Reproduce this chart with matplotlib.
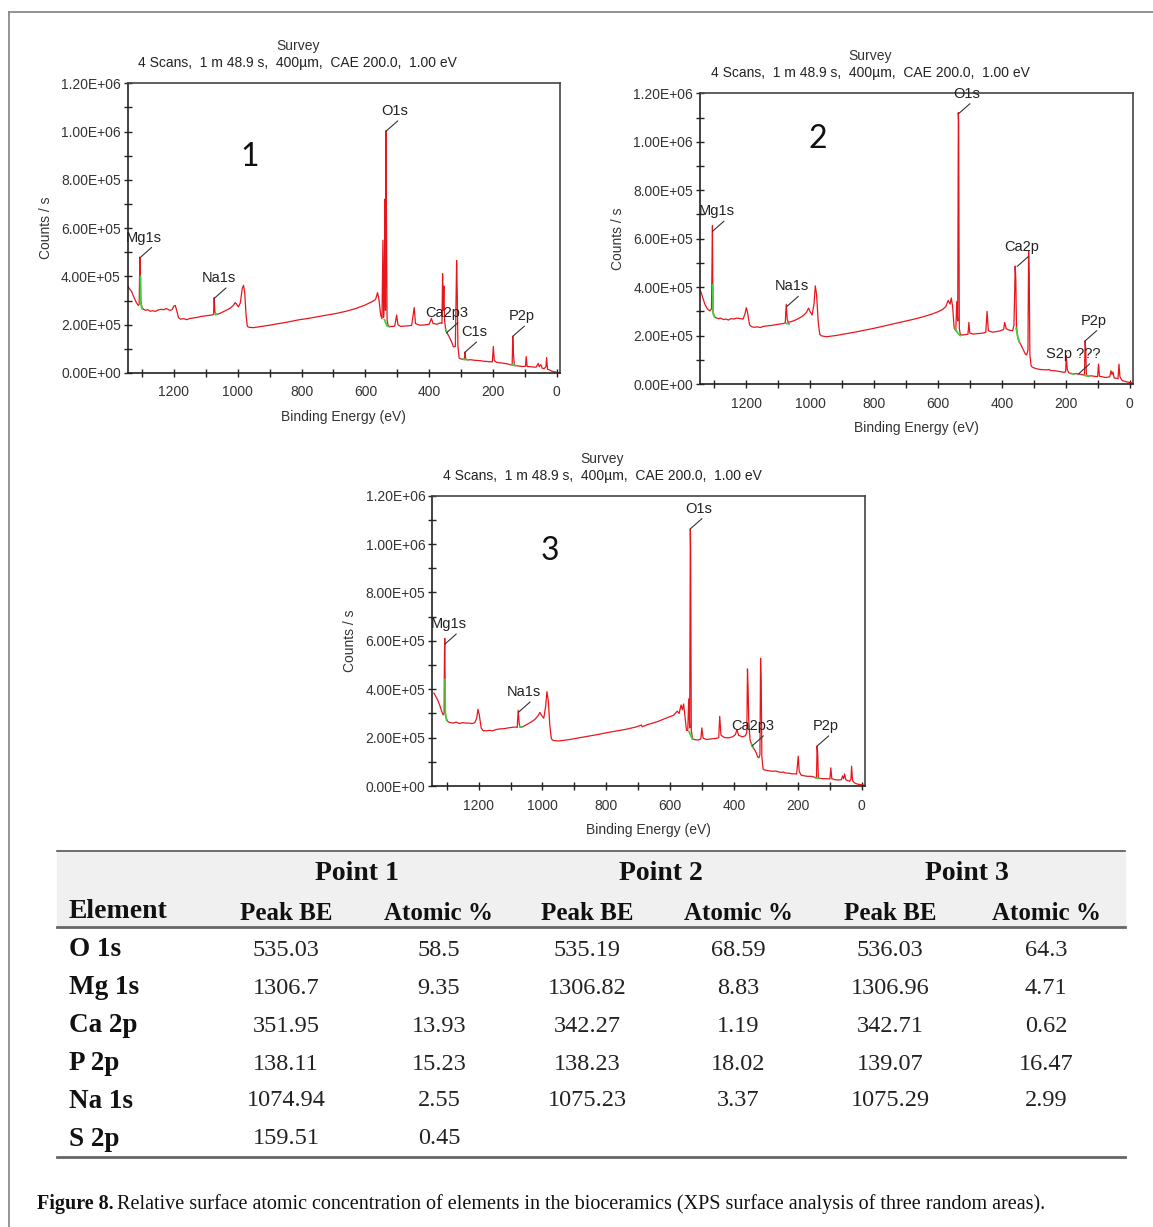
import numpy as np
import matplotlib
matplotlib.use('Agg')
import matplotlib.pyplot as plt
from matplotlib.patches import Rectangle
from matplotlib.ticker import MultipleLocator, FuncFormatter

plt.rcParams['font.family'] = ['Liberation Sans', 'DejaVu Sans']

# survey spectra: (binding energy eV, counts/s in units of 1e5)
spec1 = [(1346, 3.63), (1340, 3.50), (1333, 3.38), (1325, 3.12), (1318, 2.92), (1312, 2.80),
         (1309, 2.85), (1307, 4.80), (1306, 4.60), (1305, 3.95), (1304, 3.00), (1301, 2.75),
         (1296, 2.64), (1290, 2.60), (1282, 2.62), (1274, 2.56), (1266, 2.58), (1258, 2.55),
         (1250, 2.61), (1240, 2.64), (1232, 2.62), (1224, 2.67), (1214, 2.60), (1206, 2.62),
         (1200, 2.78), (1196, 2.80), (1192, 2.62), (1186, 2.30), (1180, 2.23), (1170, 2.25),
         (1160, 2.21), (1150, 2.26), (1140, 2.28), (1128, 2.30), (1116, 2.34), (1104, 2.36),
         (1092, 2.38), (1082, 2.40), (1076, 2.42), (1074, 3.12), (1072, 2.60), (1070, 2.41),
         (1060, 2.45), (1048, 2.52), (1036, 2.60), (1024, 2.68), (1014, 2.80), (1008, 2.92),
         (1004, 2.86), (998, 2.74), (992, 2.90), (986, 3.50), (982, 3.63), (978, 3.30),
         (974, 2.40), (970, 1.93), (964, 1.89), (950, 1.88), (930, 1.92), (900, 1.98),
         (870, 2.05), (840, 2.12), (810, 2.20), (780, 2.26), (750, 2.33), (720, 2.40),
         (690, 2.47), (660, 2.56), (630, 2.67), (600, 2.82), (585, 2.92), (574, 2.99),
         (568, 3.05), (562, 3.33), (558, 3.10), (552, 2.40), (548, 2.25), (545, 5.50),
         (543, 2.30), (541, 3.00), (539, 7.20), (537, 2.60), (535, 10.04), (534, 6.50),
         (532, 2.20), (529, 1.98), (524, 1.92), (516, 1.93), (508, 1.94), (502, 2.40),
         (498, 2.00), (490, 1.93), (470, 1.95), (455, 1.97), (447, 2.71), (443, 2.05),
         (430, 1.98), (415, 1.99), (400, 2.02), (393, 2.26), (388, 2.05), (375, 2.02),
         (365, 2.08), (360, 2.05), (358, 4.11), (356, 2.60), (354, 3.60), (352, 2.20),
         (348, 1.75), (344, 1.65), (338, 1.52), (330, 1.30), (324, 1.08), (318, 1.10),
         (314, 4.66), (312, 3.20), (310, 1.10), (306, 0.62), (300, 0.58), (294, 0.56),
         (290, 0.55), (288, 0.86), (286, 0.60), (280, 0.54), (270, 0.55), (260, 0.53),
         (250, 0.52), (240, 0.51), (230, 0.49), (220, 0.48), (210, 0.47), (202, 0.46),
         (199, 1.10), (196, 0.52), (190, 0.45), (180, 0.42), (170, 0.41), (160, 0.39),
         (150, 0.36), (144, 0.34), (140, 0.33), (138, 1.52), (136, 0.80), (133, 0.31),
         (125, 0.30), (115, 0.28), (105, 0.27), (98, 0.28), (96, 0.68), (93, 0.27),
         (85, 0.26), (75, 0.25), (65, 0.24), (58, 0.40), (55, 0.26), (50, 0.35),
         (46, 0.20), (40, 0.18), (34, 0.26), (32, 0.64), (29, 0.16), (22, 0.12),
         (15, 0.07), (8, 0.05), (0, 0.03), (-6, 0.02)]

spec2 = [(1349, 3.98), (1342, 3.80), (1336, 3.55), (1330, 3.30), (1322, 3.10), (1314, 3.02),
         (1309, 3.10), (1307, 5.20), (1306, 6.54), (1305, 4.10), (1304, 3.00), (1301, 2.82),
         (1296, 2.74), (1288, 2.70), (1280, 2.72), (1272, 2.66), (1264, 2.68), (1256, 2.64),
         (1248, 2.70), (1240, 2.68), (1230, 2.72), (1220, 2.70), (1210, 2.68), (1204, 2.90),
         (1200, 3.15), (1196, 2.95), (1190, 2.45), (1184, 2.37), (1176, 2.34), (1166, 2.36),
         (1156, 2.33), (1146, 2.38), (1134, 2.40), (1120, 2.42), (1108, 2.45), (1096, 2.47),
         (1086, 2.49), (1078, 2.52), (1075, 3.29), (1072, 2.70), (1069, 2.54), (1058, 2.58),
         (1046, 2.64), (1034, 2.72), (1022, 2.82), (1012, 2.95), (1005, 3.13), (1000, 2.98),
         (994, 2.85), (988, 3.30), (984, 4.05), (980, 3.70), (975, 2.60), (970, 2.05),
         (965, 1.99), (950, 1.95), (920, 2.00), (890, 2.07), (860, 2.14), (830, 2.22),
         (800, 2.30), (770, 2.39), (740, 2.48), (710, 2.57), (680, 2.66), (650, 2.76),
         (620, 2.88), (600, 2.98), (585, 3.08), (575, 3.20), (568, 3.45), (562, 3.30),
         (558, 3.55), (554, 3.20), (549, 2.30), (544, 2.20), (541, 3.40), (538, 2.60),
         (536, 11.20), (535, 10.80), (533, 2.30), (530, 2.05), (524, 2.02), (514, 2.04),
         (506, 2.05), (503, 2.54), (500, 2.10), (490, 2.06), (475, 2.08), (460, 2.10),
         (450, 2.14), (446, 3.00), (442, 2.20), (430, 2.14), (418, 2.16), (404, 2.20),
         (394, 2.25), (391, 2.54), (386, 2.28), (376, 2.22), (366, 2.20), (362, 2.40),
         (360, 3.50), (358, 4.87), (356, 4.30), (354, 2.40), (350, 1.90), (346, 1.75),
         (340, 1.62), (332, 1.40), (326, 1.23), (322, 1.20), (318, 1.40), (316, 5.49),
         (314, 4.50), (312, 1.20), (308, 0.75), (304, 0.69), (296, 0.65), (288, 0.62),
         (280, 0.60), (270, 0.59), (260, 0.58), (252, 0.60), (248, 0.56), (240, 0.55),
         (230, 0.54), (220, 0.52), (212, 0.50), (206, 0.48), (200, 0.50), (198, 1.17),
         (195, 0.60), (190, 0.46), (182, 0.43), (175, 0.41), (168, 0.43), (160, 0.41),
         (152, 0.40), (146, 0.38), (141, 0.36), (139, 1.78), (137, 1.40), (135, 0.36),
         (128, 0.32), (120, 0.34), (112, 0.32), (104, 0.31), (100, 0.30), (97, 0.82),
         (94, 0.32), (86, 0.30), (76, 0.27), (68, 0.28), (62, 0.30), (58, 0.55),
         (55, 0.40), (52, 0.50), (48, 0.25), (42, 0.24), (36, 0.22), (33, 0.82),
         (30, 0.30), (24, 0.16), (18, 0.12), (12, 0.10), (6, 0.08), (0, 0.06), (-6, 0.05)]

spec3 = [(1340, 3.84), (1334, 3.70), (1328, 3.55), (1322, 3.35), (1316, 3.10), (1311, 2.94),
         (1308, 3.00), (1307, 5.40), (1306, 6.10), (1305, 4.40), (1304, 3.00), (1301, 2.78),
         (1296, 2.66), (1288, 2.62), (1280, 2.60), (1270, 2.64), (1260, 2.58), (1250, 2.62),
         (1240, 2.60), (1230, 2.60), (1220, 2.58), (1212, 2.62), (1206, 2.80), (1202, 3.17),
         (1198, 2.95), (1192, 2.40), (1186, 2.29), (1176, 2.28), (1166, 2.30), (1156, 2.28),
         (1146, 2.33), (1134, 2.36), (1120, 2.37), (1108, 2.40), (1096, 2.42), (1086, 2.44),
         (1079, 2.42), (1076, 3.13), (1073, 2.60), (1070, 2.42), (1060, 2.46), (1048, 2.55),
         (1036, 2.64), (1024, 2.75), (1014, 2.90), (1008, 3.04), (1002, 2.90), (996, 2.80),
         (990, 3.30), (986, 3.90), (982, 3.55), (977, 2.50), (972, 1.95), (966, 1.88),
         (950, 1.86), (920, 1.91), (890, 1.98), (860, 2.05), (830, 2.12), (800, 2.20),
         (770, 2.27), (740, 2.34), (710, 2.43), (690, 2.52), (688, 2.45), (670, 2.54),
         (640, 2.66), (610, 2.82), (590, 2.92), (578, 3.09), (572, 3.00), (566, 3.35),
         (562, 3.15), (558, 3.39), (553, 2.80), (549, 2.30), (545, 2.30), (542, 3.60),
         (539, 2.40), (537, 10.63), (536, 9.80), (534, 2.30), (530, 1.95), (524, 1.92),
         (512, 1.90), (504, 1.95), (501, 2.40), (497, 1.98), (486, 1.92), (470, 1.95),
         (456, 1.97), (448, 2.00), (445, 2.88), (441, 2.10), (430, 2.00), (416, 1.99),
         (404, 2.04), (396, 2.12), (391, 2.33), (386, 2.10), (374, 2.03), (364, 2.08),
         (360, 2.25), (358, 4.84), (356, 4.00), (354, 2.70), (350, 1.90), (346, 1.75),
         (342, 1.62), (336, 1.50), (330, 1.35), (326, 1.20), (322, 1.17), (319, 1.30),
         (317, 5.28), (315, 4.30), (313, 1.20), (309, 0.69), (304, 0.66), (296, 0.64),
         (288, 0.62), (280, 0.61), (270, 0.62), (260, 0.58), (252, 0.56), (246, 0.58),
         (240, 0.54), (230, 0.53), (220, 0.51), (212, 0.50), (204, 0.50), (199, 1.23),
         (196, 0.60), (190, 0.45), (180, 0.42), (170, 0.40), (160, 0.40), (152, 0.38),
         (146, 0.35), (142, 0.33), (140, 1.65), (138, 1.30), (136, 0.32), (128, 0.31),
         (118, 0.30), (108, 0.30), (100, 0.29), (97, 0.75), (94, 0.30), (84, 0.26),
         (72, 0.25), (64, 0.26), (60, 0.42), (57, 0.30), (54, 0.50), (50, 0.26),
         (44, 0.22), (38, 0.20), (34, 0.28), (32, 0.82), (29, 0.22), (22, 0.12),
         (14, 0.08), (6, 0.06), (0, 0.05), (-6, 0.04)]

# green background segments under the fitted peaks
green1 = [[(1305, 4.0), (1304.5, 2.9), (1300, 2.66)], [(1073, 2.45), (1066, 2.44)],
          [(540, 2.2), (532, 1.95), (526, 1.92)], [(348, 1.8), (344, 1.68)],
          [(294, 0.58), (282, 0.55)], [(142, 0.34), (130, 0.31)]]
green2 = [[(1305, 4.1), (1304, 2.9), (1300, 2.78)], [(1074, 2.5), (1066, 2.48)],
          [(546, 2.3), (538, 2.1), (530, 2.0)], [(355, 2.3), (349, 1.9), (345, 1.75)],
          [(182, 0.43), (175, 0.41)], [(140, 0.35), (128, 0.32)]]
green3 = [[(1305, 4.4), (1304.5, 3.0), (1300, 2.72)], [(1071, 2.45), (1065, 2.44)],
          [(541, 2.25), (531, 1.95)], [(345, 1.72), (340, 1.6)], [(143, 0.33), (133, 0.32)]]

# peak labels: (text, energy, counts of leader start)
labels1 = [('Mg1s', 1306, 4.78), ('Na1s', 1073, 3.10), ('O1s', 535, 10.02),
           ('Ca2p3', 346, 1.66), ('C1s', 288, 0.86), ('P2p', 138, 1.52)]
labels2 = [('Mg1s', 1306, 6.30), ('Na1s', 1073, 3.20), ('O1s', 536, 11.15),
           ('Ca2p', 352, 4.85), ('S2p ???', 160, 0.41), ('P2p', 139, 1.78)]
labels3 = [('Mg1s', 1306, 5.86), ('Na1s', 1075, 3.05), ('O1s', 537, 10.63),
           ('Ca2p3', 344, 1.65), ('P2p', 140, 1.65)]

title_top = 'Survey'
title_sub = '4 Scans,  1 m 48.9 s,  400\u00b5m,  CAE 200.0,  1.00 eV'

# table
elements = ['O 1s', 'Mg 1s', 'Ca 2p', 'P 2p', 'Na 1s', 'S 2p']
peak_be_1 = ['535.03', '1306.7', '351.95', '138.11', '1074.94', '159.51']
atomic_1 = ['58.5', '9.35', '13.93', '15.23', '2.55', '0.45']
peak_be_2 = ['535.19', '1306.82', '342.27', '138.23', '1075.23', '']
atomic_2 = ['68.59', '8.83', '1.19', '18.02', '3.37', '']
peak_be_3 = ['536.03', '1306.96', '342.71', '139.07', '1075.29', '']
atomic_3 = ['64.3', '4.71', '0.62', '16.47', '2.99', '']

W, H = 1153, 1227
RED = '#e8161c'
GREEN = '#3cd23c'
FS = 10

fig = plt.figure(figsize=(W / 100, H / 100), dpi=100)


def fx(x):
    return x / W


def fy(y):
    return 1 - y / H


def draw_panel(box, spec, green, labels, num, numpos):
    left, top, right, bottom = box
    ax = fig.add_axes([fx(left), fy(bottom), (right - left) / W, (bottom - top) / H])
    be, cps = np.array(spec).T
    ax.plot(be, cps * 1e5, color=RED, lw=0.9)
    for seg in green:
        g = np.array(seg).T
        ax.plot(g[0], g[1] * 1e5, color=GREEN, lw=1.3)
    ax.set_xlim(1345, -10)
    ax.set_ylim(0, 1.2e6)
    ax.xaxis.set_major_locator(MultipleLocator(200))
    ax.xaxis.set_minor_locator(MultipleLocator(100))
    ax.yaxis.set_major_locator(MultipleLocator(2e5))
    ax.yaxis.set_minor_locator(MultipleLocator(1e5))
    ax.yaxis.set_major_formatter(FuncFormatter(lambda v, p: f'{v:.2E}'))
    ax.tick_params(which='both', direction='inout', length=6, width=1, color='#222',
                   labelcolor='#333', labelsize=FS)
    ax.tick_params(axis='x', pad=6)
    ax.tick_params(axis='y', pad=2)
    for side in ['left', 'bottom']:
        ax.spines[side].set_color('#222')
        ax.spines[side].set_linewidth(1.2)
    for side in ['top', 'right']:
        ax.spines[side].set_color('#444')
        ax.spines[side].set_linewidth(1.2)
    for name, e, c in labels:
        ax.annotate(name, xy=(e, c * 1e5), xytext=(22, 20), textcoords='offset pixels',
                    ha='right', va='center', fontsize=10.5, color='#222',
                    arrowprops=dict(arrowstyle='-', color='#333', lw=0.8,
                                    shrinkA=0, shrinkB=0, relpos=(0.97, 0.4)))
    ax.text(numpos[0], numpos[1], num, transform=ax.transAxes, fontsize=23,
            family='Lato', color='#111', ha='center', va='center')
    # titles and axis labels
    fig.text(fx(left + 170), fy(top - 37), title_top, ha='center', va='center',
             fontsize=FS, color='#333')
    fig.text(fx(left + 170), fy(top - 20), title_sub, ha='center', va='center',
             fontsize=FS, color='#222')
    fig.text(fx(left - 82), fy((top + bottom) / 2), 'Counts / s', rotation=90,
             ha='center', va='center', fontsize=FS, color='#333')
    fig.text(fx((left + right) / 2), fy(bottom + 44), 'Binding Energy (eV)',
             ha='center', va='center', fontsize=FS, color='#333')
    return ax


draw_panel((127.7, 83.3, 560, 373), spec1, green1, labels1, '1', (0.283, 0.746))
draw_panel((700, 93.3, 1132.7, 384), spec2, green2, labels2, '2', (0.273, 0.843))
draw_panel((432.3, 495.7, 865, 786), spec3, green3, labels3, '3', (0.272, 0.81))

# overlay in pixel coordinates for the frame, table and caption
ov = fig.add_axes([0, 0, 1, 1], zorder=-1)
ov.set_xlim(0, W)
ov.set_ylim(H, 0)
ov.axis('off')
ov.plot([9, 9], [12, H], color='#8a8a8a', lw=1.3)
ov.plot([9, W], [12, 12], color='#8a8a8a', lw=1.3)

tx0, tx1 = 57, 1125
ov.add_patch(Rectangle((tx0, 851), tx1 - tx0, 76, color='#f0f0f0', zorder=0))
ov.plot([tx0, tx1], [851, 851], color='#555', lw=1.2)
ov.plot([tx0, tx1], [927, 927], color='#666', lw=2)
ov.plot([tx0, tx1], [1157, 1157], color='#666', lw=2)

serif = ['Liberation Serif', 'DejaVu Serif']
col_x = [286, 439, 587, 738, 890, 1046]
for i, cx in enumerate([357, 661, 967]):
    ov.text(cx, 874, f'Point {i + 1}', ha='center', va='center', family=serif,
            fontsize=20, fontweight='bold', color='#111')
ov.text(69, 911, 'Element', ha='left', va='center', family=serif, fontsize=20,
        fontweight='bold', color='#111')
for k, cx in enumerate(col_x):
    ov.text(cx, 913, 'Peak BE' if k % 2 == 0 else 'Atomic %', ha='center', va='center',
            family=serif, fontsize=18, fontweight='bold', color='#111')

row_y = [950, 988, 1026, 1064, 1101, 1139]
columns = [peak_be_1, atomic_1, peak_be_2, atomic_2, peak_be_3, atomic_3]
for r, ry in enumerate(row_y):
    ov.text(69, ry, elements[r], ha='left', va='center', family=serif, fontsize=19.5,
            fontweight='bold', color='#111')
    for cx, col in zip(col_x, columns):
        ov.text(cx, ry, col[r], ha='center', va='center', family=serif, fontsize=17.5,
                color='#222')

cap_b = ov.text(37, 1204, 'Figure 8.', ha='left', va='center', family=serif,
                fontsize=14.5, fontweight='bold', color='#111')
fig.canvas.draw()
bb = cap_b.get_window_extent()
x_end = bb.x1 * W / fig.bbox.width
ov.text(x_end + 3, 1204, 'Relative surface atomic concentration of elements in the bioceramics '
        '(XPS surface analysis of three random areas).', ha='left', va='center',
        family=serif, fontsize=14.5, color='#111')

fig.savefig('out.png', dpi=100)
